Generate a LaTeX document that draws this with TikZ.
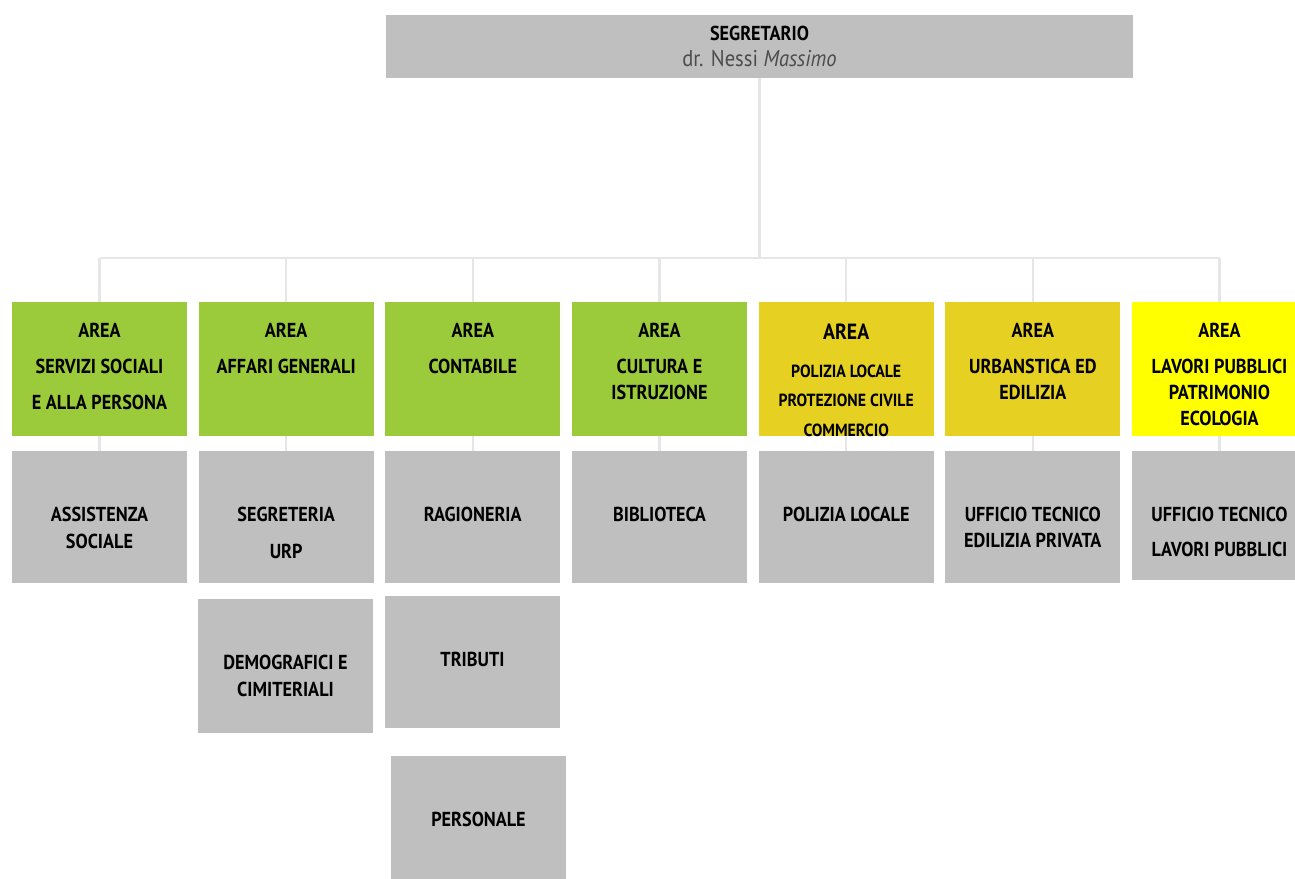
\documentclass[tikz,border=0pt]{standalone}
\usepackage{fontspec}
\setmainfont{PT Sans}[FakeStretch=0.9]
\definecolor{areagreen}{HTML}{9BCB3A}
\definecolor{areagold}{HTML}{E6D123}
\definecolor{areayellow}{HTML}{FFFF00}
\definecolor{officegray}{HTML}{BFBFBF}
\definecolor{linkgray}{HTML}{E6E6E6}
\tikzset{
	unitbox/.style={rectangle, fill=officegray, minimum width=3.5cm, inner sep=0pt},
	areabox/.style={unitbox, minimum height=2.68cm},
	officebox/.style={unitbox, minimum height=2.64cm},
	boxtxt/.style={anchor=north, inner sep=0pt, align=center, font=\bfseries\fontsize{11.5}{13.8}\selectfont},
	areatxt/.style={boxtxt, yshift=-0.43cm},
	officetxt/.style={boxtxt, yshift=-1.13cm},
	link/.style={draw=linkgray, line width=0.045cm}
}
\begin{document}
\begin{tikzpicture}[x=0.02cm, y=-0.02cm]
		\useasboundingbox (0,0) rectangle (1295,879);
		\node[unitbox, minimum width=14.94cm, minimum height=1.26cm, align=center, font=\fontsize{11.5}{13.8}\selectfont] (seg) at (759.5,46.5) {\textbf{SEGRETARIO}\\[1pt]{\fontsize{13}{15}\selectfont\color{black!70}dr. Nessi \textit{Massimo}}};
		
		\node[areabox, fill=areagreen, label={[areatxt]north:{AREA\\[6.7pt]SERVIZI SOCIALI\\[6.7pt]E ALLA PERSONA}}] (a1) at (99.5,369) {};
		\node[areabox, fill=areagreen, label={[areatxt]north:{AREA\\[6.7pt]AFFARI GENERALI}}] (a2) at (286.2,369) {};
		\node[areabox, fill=areagreen, label={[areatxt]north:{AREA\\[6.7pt]CONTABILE}}] (a3) at (472.8,369) {};
		\node[areabox, fill=areagreen, label={[areatxt]north:{AREA\\[6.7pt]CULTURA E\\[1pt]ISTRUZIONE}}] (a4) at (659.5,369) {};
		\node[areabox, fill=areagold, label={[areatxt, font=\bfseries\fontsize{10}{12}\selectfont]north:{{\fontsize{12.5}{15}\selectfont AREA}\\[9.6pt]POLIZIA LOCALE\\[5pt]PROTEZIONE CIVILE\\[5pt]COMMERCIO}}] (a5) at (846.2,369) {};
		\node[areabox, fill=areagold, label={[areatxt]north:{AREA\\[6.7pt]URBANSTICA ED\\[1pt]EDILIZIA}}] (a6) at (1032.8,369) {};
		\node[areabox, fill=areayellow, label={[areatxt]north:{AREA\\[6.7pt]LAVORI PUBBLICI\\[1pt]PATRIMONIO\\[1pt]ECOLOGIA}}] (a7) at (1219.5,369) {};
		
		\node[officebox, label={[officetxt]north:{ASSISTENZA\\[1.6pt]SOCIALE}}] (s1) at (99.5,517) {};
		\node[officebox, label={[officetxt]north:{SEGRETERIA\\[7.2pt]URP}}] (s2) at (286.2,517) {};
		\node[officebox, label={[officetxt]north:{RAGIONERIA}}] (s3) at (472.8,517) {};
		\node[officebox, label={[officetxt]north:{BIBLIOTECA}}] (s4) at (659.5,517) {};
		\node[officebox, label={[officetxt]north:{POLIZIA LOCALE}}] (s5) at (846.2,517) {};
		\node[officebox, label={[officetxt]north:{UFFICIO TECNICO\\[1pt]EDILIZIA PRIVATA}}] (s6) at (1032.8,517) {};
		\node[officebox, minimum height=2.58cm, label={[officetxt]north:{UFFICIO TECNICO\\[6.1pt]LAVORI PUBBLICI}}] (s7) at (1219.5,515.5) {};
		
		\node[officebox, minimum height=2.68cm, label={[officetxt]north:{DEMOGRAFICI E\\[1.6pt]CIMITERIALI}}] (demo) at (285.5,666) {};
		\node[officebox, label={[officetxt]north:{TRIBUTI}}] (trib) at (472.5,662) {};
		\node[officebox, minimum height=2.58cm, label={[officetxt]north:{PERSONALE}}] (pers) at (478.5,820.5) {};
		
		\coordinate (bar) at (759.5,258);
		\draw[link] (seg) -- (bar);
		\draw[link] (a1 |- bar) -- (a7 |- bar);
		\foreach \i in {1,...,7}{
			\draw[link] (a\i |- bar) -- (a\i);
			\draw[link] (a\i) -- (s\i);
		}
\end{tikzpicture}
\end{document}
